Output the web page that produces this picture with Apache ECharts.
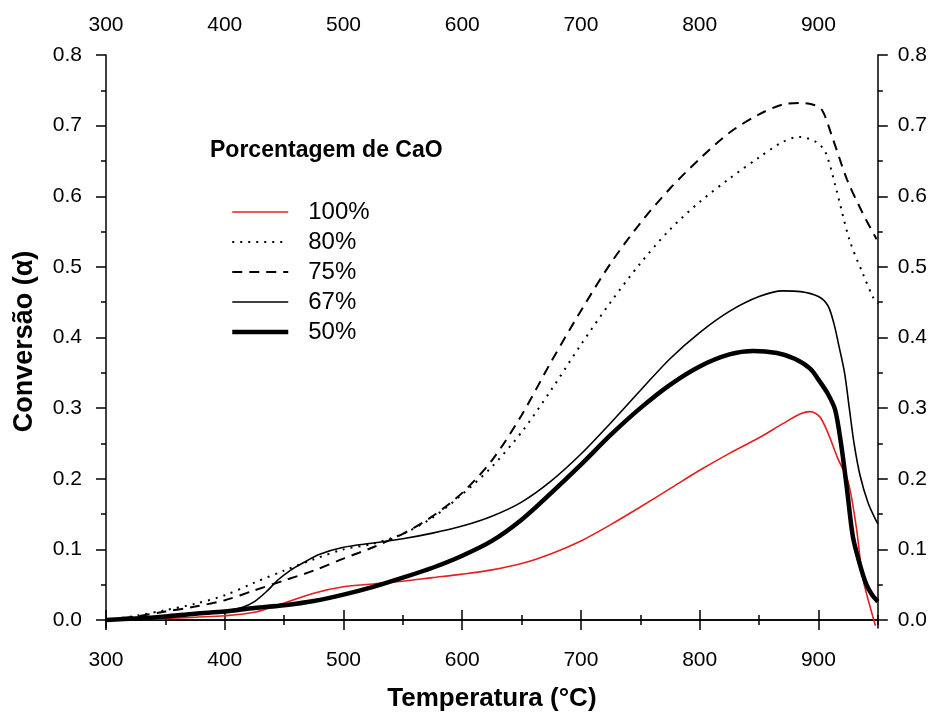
<!DOCTYPE html>
<html>
<head>
<meta charset="utf-8">
<script src="https://cdn.jsdelivr.net/npm/echarts@6/dist/echarts.min.js"></script>
<style>html,body{margin:0;padding:0;background:#fff;}#c{width:930px;height:717px;}</style>
</head>
<body>
<div id="c"></div>
<script>
// ---- data (temperature °C, conversion α) ----
var cao100 = [[300,0],[325,0.001],[350,0.002],[375,0.004],[400,0.006],[425,0.011],[450,0.024],[475,0.038],[500,0.047],[525,0.051],[550,0.055],[575,0.06],[600,0.065],[625,0.071],[650,0.08],[675,0.094],[700,0.112],[725,0.135],[750,0.16],[775,0.186],[800,0.212],[825,0.236],[850,0.258],[870,0.278],[885,0.292],[893,0.295],[901,0.288],[908,0.265],[916,0.23],[925,0.196],[932,0.13],[937,0.062],[942,0.028],[948,-0.008]];
var cao80 = [[300,0],[325,0.006],[350,0.014],[375,0.023],[400,0.035],[425,0.053],[450,0.07],[475,0.086],[500,0.1],[525,0.108],[550,0.122],[575,0.145],[600,0.178],[625,0.217],[650,0.266],[675,0.326],[700,0.39],[725,0.45],[750,0.505],[775,0.553],[800,0.592],[825,0.625],[850,0.655],[870,0.677],[884,0.684],[898,0.677],[906,0.662],[915,0.61],[926,0.539],[937,0.492],[946,0.457],[950,0.448]];
var cao75 = [[300,0],[325,0.005],[350,0.012],[375,0.019],[400,0.028],[425,0.042],[450,0.056],[475,0.07],[500,0.087],[525,0.103],[550,0.122],[575,0.147],[600,0.18],[625,0.226],[650,0.29],[675,0.366],[700,0.438],[725,0.505],[750,0.562],[775,0.611],[800,0.653],[825,0.69],[850,0.716],[870,0.73],[885,0.732],[895,0.73],[903,0.722],[911,0.687],[924,0.624],[937,0.577],[949,0.539]];
var cao67 = [[300,0],[325,0.002],[350,0.005],[375,0.009],[400,0.013],[415,0.018],[425,0.026],[435,0.04],[445,0.057],[455,0.07],[465,0.08],[480,0.093],[500,0.103],[525,0.109],[550,0.115],[575,0.123],[600,0.133],[625,0.147],[650,0.167],[675,0.197],[700,0.235],[725,0.279],[750,0.325],[775,0.37],[800,0.407],[825,0.437],[850,0.458],[870,0.466],[885,0.465],[900,0.458],[908,0.445],[913,0.42],[917,0.39],[922,0.35],[926,0.3],[930,0.25],[935,0.205],[942,0.165],[950,0.136]];
var cao50 = [[300,0],[325,0.002],[350,0.005],[375,0.009],[400,0.012],[425,0.017],[450,0.021],[475,0.027],[500,0.036],[525,0.047],[550,0.06],[575,0.074],[600,0.091],[625,0.112],[650,0.142],[675,0.18],[700,0.22],[725,0.262],[750,0.3],[775,0.333],[800,0.359],[825,0.376],[845,0.381],[865,0.378],[880,0.37],[893,0.356],[901,0.338],[908,0.32],[914,0.298],[919,0.25],[924,0.186],[929,0.118],[935,0.078],[940,0.052],[945,0.036],[950,0.026]];

var seriesNames = ['100%','80%','75%','67%','50%'];
var xMajor = [300,400,500,600,700,800,900];
var xMinor = [350,450,550,650,750,850,950];
var yMajor = [0,0.1,0.2,0.3,0.4,0.5,0.6,0.7,0.8];
var yMinor = [0.05,0.15,0.25,0.35,0.45,0.55,0.65,0.75];
var X_MIN = 300, X_MAX = 950, Y_MIN = -0.0113, Y_MAX = 0.8;

var FONT = 'Liberation Sans, Arial, sans-serif';
var axisLineStyle = {color:'#000', width:1.5};

function xAx(pos, major, withName){
  var a = {
    type:'value', position:pos, min:X_MIN, max:X_MAX,
    axisLine:{show:major, lineStyle:axisLineStyle},
    axisTick:{show:true, inside:false, length: major?10:5, customValues: major?xMajor:xMinor, lineStyle:{color:'#000', width:1.5}},
    axisLabel:{show:major, customValues:xMajor, margin: pos==='top'?19:22, fontSize:21, color:'#000', fontFamily:FONT},
    splitLine:{show:false}
  };
  if (withName){
    a.name = 'Temperatura (°C)';
    a.nameLocation = 'middle';
    a.nameGap = 58;
    a.nameTextStyle = {fontSize:26, fontWeight:'bold', color:'#000', fontFamily:FONT, verticalAlign:'top'};
  }
  return a;
}
function yAx(pos, major, withName){
  var a = {
    type:'value', position:pos, min:Y_MIN, max:Y_MAX,
    axisLine:{show:major, lineStyle:axisLineStyle},
    axisTick:{show:true, inside:false, length: major?10:5, customValues: major?yMajor:yMinor, lineStyle:{color:'#000', width:1.5}},
    axisLabel:{show:major, customValues:yMajor, margin: pos==='left'?24:20, fontSize:21, color:'#000', fontFamily:FONT,
      formatter:function(v){return v.toFixed(1);}},
    splitLine:{show:false}
  };
  if (withName){
    a.name = 'Conversão (α)';
    a.nameLocation = 'middle';
    a.nameGap = 68;
    a.nameTextStyle = {fontSize:27, fontWeight:'bold', color:'#000', fontFamily:FONT};
  }
  return a;
}

var dataSets = [cao100, cao80, cao75, cao67, cao50];
var styles = [
  {color:'#e3201f', width:1.6, type:'solid'},
  {color:'#000', width:2, type:[2,6]},
  {color:'#000', width:2, type:[10,7]},
  {color:'#000', width:1.6, type:'solid'},
  {color:'#000', width:4.5, type:'solid'}
];
var series = dataSets.map(function(d,i){
  return {
    name: seriesNames[i], type:'line', data:d, xAxisIndex:0, yAxisIndex:0,
    symbol:'none', smooth:0.3,
    lineStyle: styles[i], itemStyle:{color:styles[i].color},
    z: 2 + (i===4?2:0), animation:false
  };
});

var chart = echarts.init(document.getElementById('c'), null, {renderer:'canvas'});
chart.setOption({
  animation:false,
  backgroundColor:'#fff',
  title:{text:'Porcentagem de CaO', left:205, top:134, textStyle:{fontSize:23, fontWeight:'bold', color:'#000', fontFamily:FONT}},
  legend:{
    orient:'vertical', left:225, top:194, itemWidth:56, itemHeight:14, itemGap:4,
    data: seriesNames.map(function(n,i){ return {name:n, lineStyle:{width:styles[i].width, type:styles[i].type, color:styles[i].color}}; }),
    itemStyle:{opacity:0},
    lineStyle:{width:'inherit'},
    textStyle:{fontSize:24, color:'#000', fontFamily:FONT, lineHeight:26, padding:[0,0,0,15]},
    selectedMode:false
  },
  grid:{left:106, right:52, top:55, bottom:87, containLabel:false},
  xAxis:[xAx('bottom',true,true), xAx('bottom',false,false), xAx('top',true,false), xAx('top',false,false)],
  yAxis:[yAx('left',true,true), yAx('left',false,false), yAx('right',true,false), yAx('right',false,false)],
  series: series
});
</script>
</body>
</html>
